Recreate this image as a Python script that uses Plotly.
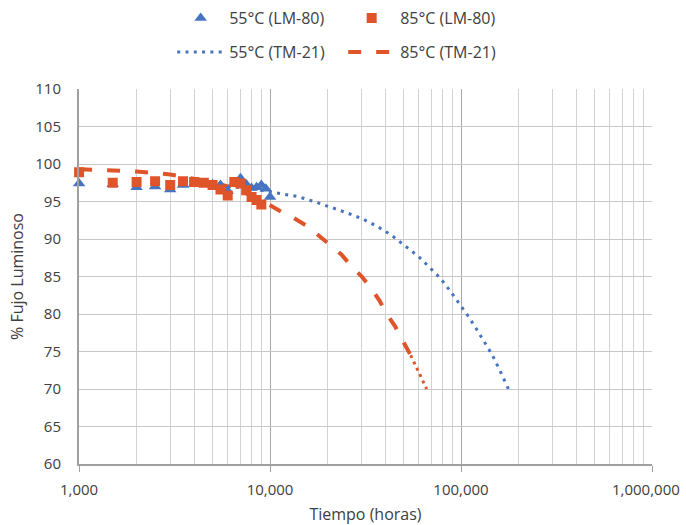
import plotly.graph_objects as go

# LM-80 measured data (hours, % luminous flux)
lm_hours = [1000, 1500, 2000, 2500, 3000, 3500, 4000, 4500, 5000, 5500,
            6000, 6500, 7000, 7500, 8000, 8500, 9000, 9500, 10000]
lm55 = [97.4, 97.3, 96.9, 97.0, 96.6, 97.2, 97.3, 97.4, 97.3, 97.2,
        96.4, 97.5, 98.1, 97.3, 96.8, 96.9, 97.2, 96.7, 95.6]
lm85_hours = [1000, 1500, 2000, 2500, 3000, 3500, 4000, 4500, 5000, 5500,
              6000, 6500, 7000, 7500, 8000, 8500, 9000]
lm85 = [98.9, 97.5, 97.6, 97.7, 97.2, 97.7, 97.6, 97.5, 97.2, 96.6,
        95.8, 97.6, 97.4, 96.5, 95.6, 95.2, 94.6]

# TM-21 projections
tm55_hours = [6000, 8000, 10000, 14000, 17000, 20700, 25200, 30400, 36600,
              43500, 51300, 60300, 69100, 78300, 87600, 98000, 108400,
              119800, 131900, 145300, 157500, 170600, 177000]
tm55 = [97.0, 96.7, 96.3, 95.65, 95.0, 94.3, 93.5, 92.7, 91.65,
        90.45, 89.05, 87.6, 86.1, 84.7, 83.1, 81.4, 79.8,
        78.1, 76.4, 74.6, 72.8, 70.9, 70.0]
tm85_hours = [1000, 1500, 2000, 3000, 4000, 5000, 6000, 7000, 8000, 9000,
              10000, 11500, 13200, 15900, 17900, 20600, 23700, 26800,
              30200, 34100, 37400, 40800, 45100, 49500, 54500]
tm85 = [99.3, 99.2, 99.0, 98.6, 98.1, 97.6, 97.0, 96.4, 95.8, 95.2,
        94.5, 93.6, 92.85, 91.6, 90.5, 89.2, 87.9, 86.3,
        85.0, 83.3, 81.8, 80.0, 78.4, 76.45, 74.5]
tm85_tail_hours = [54500, 58600, 63500, 66100]
tm85_tail = [74.5, 72.8, 71.0, 70.0]

x_tickvals = [1000, 10000, 100000, 1000000]
x_ticktext = ["1,000", "10,000", "100,000", ""]
last_tick_label = "1,000,000"

BLUE = "#4674C1"
ORANGE = "#E0542A"
FONT = "Open Sans"
TXT = "#404040"

fig = go.Figure()
fig.add_trace(go.Scatter(x=tm85_hours, y=tm85, mode="lines", name="85°C (TM-21)",
                         line=dict(color=ORANGE, width=4, dash="13px,15px"),
                         legend="legend2", legendrank=2))
fig.add_trace(go.Scatter(x=tm85_tail_hours, y=tm85_tail, mode="lines", showlegend=False,
                         line=dict(color=ORANGE, width=3, dash="3px,4px")))
fig.add_trace(go.Scatter(x=tm55_hours, y=tm55, mode="lines", name="55°C (TM-21)",
                         line=dict(color=BLUE, width=3, dash="3px,5.3px"),
                         legend="legend2", legendrank=1))
fig.add_trace(go.Scatter(x=lm_hours, y=lm55, mode="markers", name="55°C (LM-80)",
                         marker=dict(symbol="triangle-up", size=11, color=BLUE),
                         cliponaxis=False, legend="legend", legendrank=1))
fig.add_trace(go.Scatter(x=lm85_hours, y=lm85, mode="markers", name="85°C (LM-80)",
                         marker=dict(symbol="square", size=10, color=ORANGE),
                         cliponaxis=False, legend="legend", legendrank=2))

# last x tick label, kept inside the canvas like the reference
fig.add_annotation(x=6, xref="x", y=0, yref="paper", text=last_tick_label,
                   showarrow=False, xanchor="center", yanchor="middle",
                   xshift=-6, yshift=-25, font=dict(family=FONT, size=15, color=TXT))

fig.update_layout(
    width=686, height=525,
    margin=dict(l=79, r=34, t=89, b=61, autoexpand=False),
    paper_bgcolor="white", plot_bgcolor="white",
    font=dict(family=FONT, size=16, color=TXT),
    legend=dict(orientation="h", xref="container", yref="container",
                x=0.251, y=0.998, xanchor="left", yanchor="top",
                entrywidth=109, itemwidth=47, font=dict(size=16, color=TXT),
                bgcolor="rgba(0,0,0,0)"),
    legend2=dict(orientation="h", xref="container", yref="container",
                 x=0.251, y=0.933, xanchor="left", yanchor="top",
                 entrywidth=109, itemwidth=47, font=dict(size=16, color=TXT),
                 bgcolor="rgba(0,0,0,0)"),
    xaxis=dict(type="log", range=[2.9995, 6], tickvals=x_tickvals, ticktext=x_ticktext,
               automargin=False,
               showgrid=True, gridcolor="#A8A8A8", gridwidth=1,
               minor=dict(showgrid=True, gridcolor="#D3D3D3", gridwidth=1,
                          dtick="D1", ticks=""),
               showline=True, linecolor="#A0A0A0", linewidth=2,
               ticks="outside", ticklen=6, tickcolor="#A0A0A0", tickwidth=1,
               ticklabelstandoff=5,
               zeroline=False,
               title=dict(text="Tiempo (horas)", font=dict(size=16, color=TXT), standoff=12),
               tickfont=dict(size=15, color=TXT)),
    yaxis=dict(range=[60, 110], dtick=5, tick0=60, automargin=False,
               showgrid=True, gridcolor="#C8C8C8", gridwidth=1,
               showline=True, linecolor="#A0A0A0", linewidth=2,
               ticks="", ticklabelstandoff=13, zeroline=False,
               title=dict(text="% Fujo Luminoso", font=dict(size=16, color=TXT), standoff=8),
               tickfont=dict(size=15, color=TXT)),
)

fig.write_html("out.html")
